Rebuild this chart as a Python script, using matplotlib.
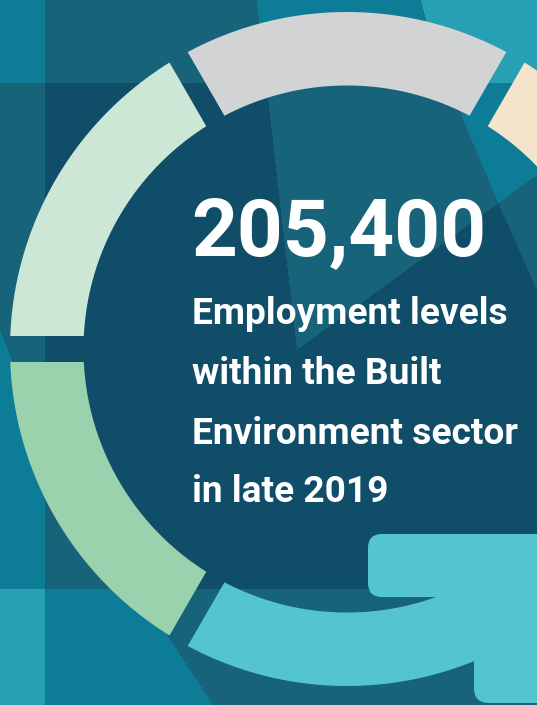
import numpy as np
import matplotlib
matplotlib.use("Agg")
import matplotlib.pyplot as plt
from matplotlib.path import Path
from matplotlib.patches import Polygon, FancyBboxPatch
from matplotlib.colors import ListedColormap

# ---- data ----
headline_value = "205,400"
headline_lines = ["Employment levels", "within the Built",
                  "Environment sector", "in late 2019"]
# ring segments (angles in degrees, counter-clockwise from 3 o'clock)
seg_start = [0, 60, 120, 180, 240]
seg_end = [60, 120, 180, 240, 310]
seg_gap_start = [0, 21, 21, 26, 21]
seg_gap_end = [21, 21, 26, 21, 0]
seg_colors = ["#F6E3CB", "#D1D3D5", "#CCE7D6", "#9AD2AE", "#54C4CF"]
arrow_color = "#54C4CF"
bg_colors = ["#0F4D69", "#17637A", "#0D7D97", "#26A0B2"]

W, H = 537, 705
CX, CY = 347, 349
R_OUT, R_IN = 337, 263.5

fig = plt.figure(figsize=(W / 100, H / 100), dpi=100)
ax = fig.add_axes([0, 0, 1, 1])
ax.set_xlim(0, W)
ax.set_ylim(H, 0)
ax.axis("off")

# ---- background (layered geometric shapes) ----
xs = np.arange(W) + 0.5
ys = np.arange(H) + 0.5
XX, YY = np.meshgrid(xs, ys)
pts = np.column_stack([XX.ravel(), YY.ravel()])
level = np.zeros(XX.shape, dtype=int)
level += (YY < 82.7)
level += (XX < 45)
level += (YY > 589)
regions = [
    [(256.7, 0), (297, 350), (537, 175), (560, 175), (560, -10), (256.7, -10)],
    [(421, -10), (421, 0), (441, 82), (460, 112), (497, 200), (537, 290), (560, 300), (560, -10)],
    [(0, 330), (12, 360), (40, 430), (80, 510), (125, 580), (167, 635), (213, 705), (213, 720), (-10, 720), (-10, 330)],
]
for poly in regions:
    level += Path(poly).contains_points(pts).reshape(XX.shape)
level = np.clip(level, 0, 3)
ax.imshow(level, cmap=ListedColormap(bg_colors), vmin=-0.5, vmax=3.5,
          extent=(0, W, H, 0), interpolation="nearest", zorder=0)


def segment_polygon(a0, a1, g0, g1, n=120):
    h0, h1 = g0 / 2.0, g1 / 2.0
    o0 = np.radians(a0) + np.arcsin(h0 / R_OUT)
    o1 = np.radians(a1) - np.arcsin(h1 / R_OUT)
    i0 = np.radians(a0) + np.arcsin(h0 / R_IN)
    i1 = np.radians(a1) - np.arcsin(h1 / R_IN)
    to = np.linspace(o0, o1, n)
    ti = np.linspace(i1, i0, n)
    x = np.concatenate([CX + R_OUT * np.cos(to), CX + R_IN * np.cos(ti)])
    y = np.concatenate([CY - R_OUT * np.sin(to), CY - R_IN * np.sin(ti)])
    return np.column_stack([x, y])


for a0, a1, g0, g1, c in zip(seg_start, seg_end, seg_gap_start, seg_gap_end, seg_colors):
    ax.add_patch(Polygon(segment_polygon(a0, a1, g0, g1), closed=True,
                         facecolor=c, edgecolor="none", zorder=2))

# arrow head (two rounded bars)
ax.add_patch(FancyBboxPatch((368, 534), 220, 63,
                            boxstyle="round,pad=0,rounding_size=14",
                            facecolor=arrow_color, edgecolor="none", zorder=3))
ax.add_patch(FancyBboxPatch((474, 534), 120, 169,
                            boxstyle="round,pad=0,rounding_size=15",
                            facecolor=arrow_color, edgecolor="none", zorder=3))

# ---- text ----
fam = ["Roboto", "DejaVu Sans"]
ax.text(191, 255, headline_value, color="white", fontsize=57.7,
        fontweight="bold", family=fam, va="baseline", ha="left", zorder=5)
baselines = [324.3, 384, 444, 502.5]
for line, b in zip(headline_lines, baselines):
    ax.text(191.5, b, line, color="white", fontsize=26.7, fontweight="bold",
            family=fam, va="baseline", ha="left", zorder=5)

fig.savefig("out.png", dpi=100)
